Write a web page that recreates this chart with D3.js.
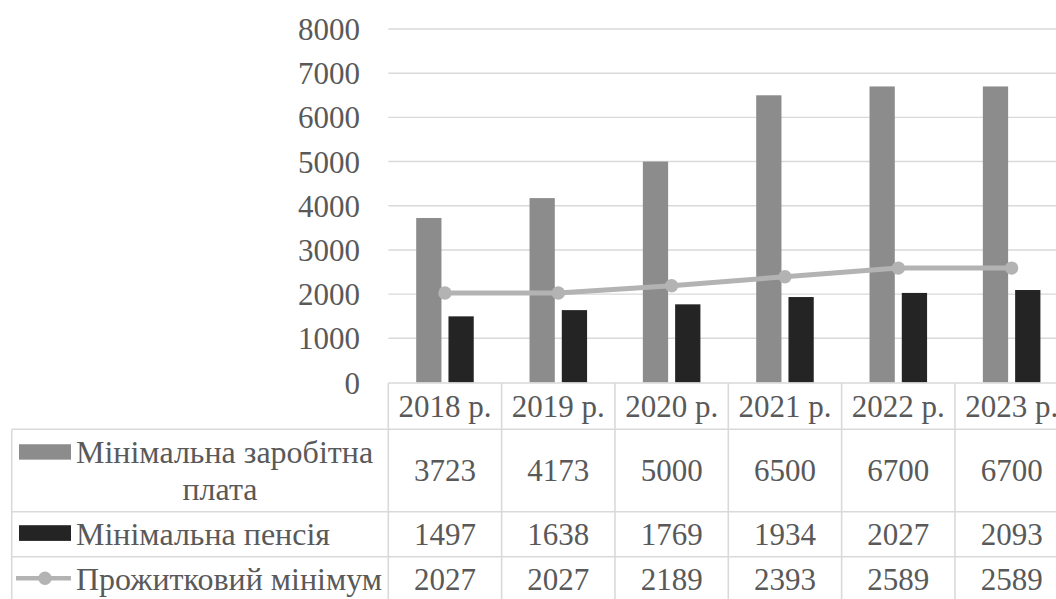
<!DOCTYPE html>
<html>
<head>
<meta charset="utf-8">
<script src="https://cdn.jsdelivr.net/npm/d3@7"></script>
<style>
  html, body { margin: 0; padding: 0; background: #fff; overflow: hidden; }
  svg { display: block; }
</style>
</head>
<body>
<svg id="chart" width="1056" height="599"></svg>
<script>
// Chart data
const categories = ["2018 р.", "2019 р.", "2020 р.", "2021 р.", "2022 р.", "2023 р."];
const minWage    = [3723, 4173, 5000, 6500, 6700, 6700];
const minPension = [1497, 1638, 1769, 1934, 2027, 2093];
const subsistence = [2027, 2027, 2189, 2393, 2589, 2589];
const seriesNames = ["Мінімальна заробітна\nплата", "Мінімальна пенсія", "Прожитковий мінімум"];
const yTicks = [0, 1000, 2000, 3000, 4000, 5000, 6000, 7000, 8000];

// Layout
const plotLeft = 388.3, plotRight = 1068.3, plotTop = 29, plotBottom = 382.5;
const tableLeft = 11.7;
const rowEdges = [383, 429.3, 511.7, 556.7, 601.7]; // header, wage, pension, subsistence
const fontFamily = "'Liberation Serif', 'Times New Roman', serif";
const fontSize = 31;
const legendFontSize = 32;
const textColor = "#595959";
const gridColor = "#d9d9d9";
const colors = { wage: "#8c8c8c", pension: "#242424", line: "#b3b3b3" };

const svg = d3.select("#chart");

const x = d3.scaleBand().domain(categories).range([plotLeft, plotRight]).paddingInner(0).paddingOuter(0);
const xSub = d3.scaleBand().domain(["wage", "pension"]).range([0, x.bandwidth()])
  .paddingInner(0.217).paddingOuter(0.864);
const y = d3.scaleLinear().domain([0, 8000]).range([plotBottom, plotTop]);

// Gridlines
svg.append("g")
  .selectAll("line")
  .data(yTicks.filter(d => d > 0))
  .join("line")
  .attr("x1", plotLeft).attr("x2", plotRight)
  .attr("y1", d => y(d)).attr("y2", d => y(d))
  .attr("stroke", gridColor).attr("stroke-width", 1.4);

// Y axis labels
const yAxis = d3.axisLeft(y).tickValues(yTicks).tickSize(0).tickPadding(0).tickFormat(d3.format("d"));
const yG = svg.append("g").attr("transform", "translate(360,0)").call(yAxis);
yG.select(".domain").remove();
yG.attr("font-family", fontFamily).attr("font-size", fontSize);
yG.selectAll("text")
  .attr("fill", textColor)
  .attr("dy", "0.34em");

// Bars
const bars = svg.append("g");
bars.selectAll("rect.wage")
  .data(categories.map((c, i) => ({ c, v: minWage[i] })))
  .join("rect").attr("class", "wage")
  .attr("x", d => x(d.c) + xSub("wage"))
  .attr("width", xSub.bandwidth())
  .attr("y", d => y(d.v))
  .attr("height", d => y(0) - y(d.v))
  .attr("fill", colors.wage);
bars.selectAll("rect.pension")
  .data(categories.map((c, i) => ({ c, v: minPension[i] })))
  .join("rect").attr("class", "pension")
  .attr("x", d => x(d.c) + xSub("pension"))
  .attr("width", xSub.bandwidth())
  .attr("y", d => y(d.v))
  .attr("height", d => y(0) - y(d.v))
  .attr("fill", colors.pension);

// Subsistence line with markers
const lineData = categories.map((c, i) => ({ c, v: subsistence[i] }));
const line = d3.line().x(d => x(d.c) + x.bandwidth() / 2).y(d => y(d.v));
svg.append("path")
  .datum(lineData)
  .attr("d", line)
  .attr("fill", "none")
  .attr("stroke", colors.line)
  .attr("stroke-width", 5)
  .attr("stroke-linejoin", "round");
svg.append("g").selectAll("circle")
  .data(lineData)
  .join("circle")
  .attr("cx", d => x(d.c) + x.bandwidth() / 2)
  .attr("cy", d => y(d.v))
  .attr("r", 6.7)
  .attr("fill", colors.line);

// Data table
const table = svg.append("g");
const border = (x1, y1, x2, y2) => table.append("line")
  .attr("x1", x1).attr("y1", y1).attr("x2", x2).attr("y2", y2)
  .attr("stroke", gridColor).attr("stroke-width", 1.6);

border(plotLeft, rowEdges[0], plotRight, rowEdges[0]);
for (let r = 1; r < rowEdges.length; r++) border(tableLeft, rowEdges[r], plotRight, rowEdges[r]);
border(tableLeft, rowEdges[1], tableLeft, rowEdges[4]);
categories.forEach(c => border(x(c), rowEdges[0], x(c), rowEdges[4]));
border(plotRight, rowEdges[0], plotRight, rowEdges[4]);

const rowMid = r => (rowEdges[r] + rowEdges[r + 1]) / 2;
const txt = (g, tx, ty, s, anchor, size) => g.append("text")
  .attr("x", tx).attr("y", ty).attr("dy", "0.34em")
  .attr("text-anchor", anchor || "middle")
  .attr("font-family", fontFamily)
  .attr("font-size", size || fontSize).attr("fill", textColor)
  .text(s);

// Header row: category labels
categories.forEach(c => txt(table, x(c) + x.bandwidth() / 2, rowMid(0), c));

// Value rows
[minWage, minPension, subsistence].forEach((vals, si) => {
  vals.forEach((v, i) => txt(table, x(categories[i]) + x.bandwidth() / 2, rowMid(si + 1), v));
});

// Legend keys and series names
const keyX = 19, keyW = 52, textX = 76;
// Row 1: two-line label
const wageLines = seriesNames[0].split("\n");
const lh = 36.5;
const r1 = rowMid(1);
table.append("rect").attr("x", keyX).attr("y", r1 - lh / 2 - 8).attr("width", keyW).attr("height", 15.4)
  .attr("fill", colors.wage);
txt(table, textX, r1 - lh / 2, wageLines[0], "start", legendFontSize);
txt(table, 220, r1 + lh / 2, wageLines[1], "middle", legendFontSize);
// Row 2
const r2 = rowMid(2);
table.append("rect").attr("x", keyX).attr("y", r2 - 9).attr("width", keyW).attr("height", 15.7)
  .attr("fill", colors.pension);
txt(table, textX, r2, seriesNames[1], "start", legendFontSize);
// Row 3
const r3 = rowMid(3);
table.append("line").attr("x1", keyX - 3).attr("x2", keyX + keyW).attr("y1", r3 - 1).attr("y2", r3 - 1)
  .attr("stroke", colors.line).attr("stroke-width", 4.5);
table.append("circle").attr("cx", keyX + keyW / 2).attr("cy", r3 - 1).attr("r", 6.7).attr("fill", colors.line);
txt(table, textX, r3, seriesNames[2], "start", legendFontSize);
</script>
</body>
</html>
